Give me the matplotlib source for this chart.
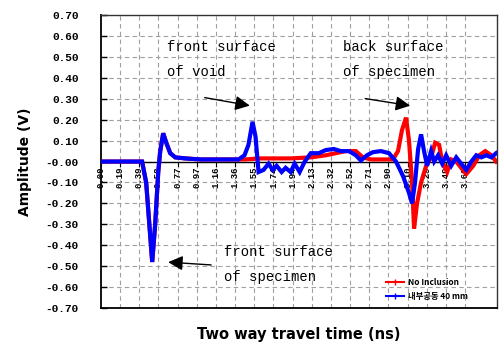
import numpy as np
import matplotlib.pyplot as plt
from matplotlib.lines import Line2D

# time axis (ns) and amplitudes (V)
t_void = [0.00, 0.40, 0.415, 0.456, 0.517, 0.547, 0.578, 0.598, 0.628, 0.659,
          0.699, 0.750, 0.851, 1.003, 1.206, 1.388, 1.449, 1.489, 1.530, 1.560,
          1.591, 1.641, 1.692, 1.733, 1.773, 1.824, 1.864, 1.915, 1.955, 2.006,
          2.057, 2.118, 2.199, 2.270, 2.351, 2.421, 2.503, 2.573, 2.624, 2.685,
          2.746, 2.827, 2.908, 2.979, 3.050, 3.110, 3.141, 3.171, 3.202, 3.232,
          3.262, 3.293, 3.333, 3.364, 3.404, 3.445, 3.485, 3.536, 3.587, 3.637,
          3.688, 3.739, 3.789, 3.840, 3.891, 3.941, 3.99]
amp_void = [0.00, 0.00, 0.00, -0.10, -0.48, -0.30, -0.05, 0.05, 0.135, 0.09,
            0.04, 0.02, 0.015, 0.01, 0.01, 0.01, 0.03, 0.08, 0.19, 0.12,
            -0.05, -0.04, -0.01, -0.04, -0.02, -0.05, -0.03, -0.05, -0.01, -0.05,
            0.00, 0.04, 0.04, 0.055, 0.06, 0.05, 0.05, 0.03, 0.005, 0.03,
            0.045, 0.05, 0.04, 0.00, -0.07, -0.15, -0.20, -0.10, 0.06, 0.13,
            0.05, -0.02, 0.05, 0.00, 0.03, -0.01, 0.03, -0.02, 0.02, -0.01,
            -0.04, 0.00, 0.03, 0.02, 0.03, 0.02, 0.04]

t_none = [0.00, 0.40, 0.415, 0.456, 0.517, 0.547, 0.578, 0.598, 0.628, 0.659,
          0.699, 0.750, 0.851, 1.003, 1.206, 1.388, 1.449, 1.611, 1.915, 2.118,
          2.270, 2.371, 2.472, 2.573, 2.644, 2.725, 2.827, 2.948, 2.999, 3.039,
          3.080, 3.110, 3.141, 3.161, 3.191, 3.232, 3.283, 3.333, 3.374, 3.414,
          3.445, 3.495, 3.536, 3.587, 3.637, 3.688, 3.759, 3.820, 3.880, 3.941,
          3.99]
amp_none = [0.00, 0.00, 0.00, -0.10, -0.48, -0.30, -0.05, 0.05, 0.135, 0.09,
            0.04, 0.02, 0.015, 0.01, 0.01, 0.01, 0.01, 0.015, 0.015, 0.02,
            0.03, 0.04, 0.05, 0.05, 0.02, 0.01, 0.01, 0.01, 0.05, 0.15,
            0.21, 0.10, -0.10, -0.32, -0.20, -0.10, -0.02, 0.02, 0.09, 0.08,
            0.00, -0.05, 0.01, 0.00, -0.03, -0.06, -0.02, 0.03, 0.05, 0.03,
            0.00]

x_step = 0.1935
x_labels = ['0.00', '0.19', '0.39', '0.58', '0.77', '0.97', '1.16', '1.36',
            '1.55', '1.74', '1.94', '2.13', '2.32', '2.52', '2.71', '2.90',
            '3.10', '3.29', '3.49', '3.68']
y_ticks = np.round(np.arange(-0.7, 0.71, 0.1), 2)

legend_labels = ['No Inclusion', '내부공동 40 mm']

mono = 'Liberation Mono'

fig = plt.figure(figsize=(5.04, 3.43), dpi=100)
ax = fig.add_axes([0.2004, 0.102, 0.786, 0.854])

x_ticks = np.arange(len(x_labels)) * x_step

# grid
for xv in x_ticks[1:]:
    ax.axvline(xv, color='#a0a0a0', lw=0.8, ls=(0, (4, 3)), zorder=0)
for yv in y_ticks:
    ax.axhline(yv, color='#a0a0a0', lw=0.8, ls=(0, (4, 3)), zorder=0)
ax.axhline(0, color='black', lw=1.0, zorder=1)

ax.plot(t_none, amp_none, color='red', lw=3.0, solid_joinstyle='miter', zorder=2)
ax.plot(t_void, amp_void, color='blue', lw=3.0, solid_joinstyle='miter', zorder=3)

ax.set_xlim(0, 4.0)
ax.set_ylim(-0.7, 0.7)

ax.set_yticks(y_ticks)
ax.set_yticklabels(['%.2f' % v if v >= 0 else '-%.2f' % abs(v) for v in y_ticks],
                   family=mono, fontsize=8, fontweight='bold')
ax.tick_params(axis='y', direction='in', length=4, width=1, pad=16)
ax.set_xticks([])

# category labels along the zero line
for xv, lab in zip(x_ticks, x_labels):
    ax.plot([xv, xv], [0, -0.02], color='black', lw=0.8, zorder=1)
    ax.text(xv, -0.025, lab, rotation=90, ha='center', va='top',
            family=mono, fontsize=6.5, fontweight='bold', zorder=1)

for side in ['left', 'bottom']:
    ax.spines[side].set_linewidth(1.3)
for side in ['top', 'right']:
    ax.spines[side].set_linewidth(1.0)
    ax.spines[side].set_color('#333333')

ax.set_ylabel('Amplitude (V)', fontsize=10, fontweight='bold', labelpad=10)
ax.set_xlabel('Two way travel time (ns)', fontsize=10.5, fontweight='bold',
              labelpad=14)

# annotations
arrow = dict(arrowstyle='-|>', color='black', lw=1, mutation_scale=22)
ax.text(0.67, 0.58, 'front surface\nof void', family=mono, fontsize=10,
        va='top', ha='left', linespacing=2.0)
ax.annotate('', xy=(1.53, 0.265), xytext=(1.02, 0.308), arrowprops=arrow)
ax.text(2.44, 0.58, 'back surface\nof specimen', family=mono, fontsize=10,
        va='top', ha='left', linespacing=2.0)
ax.annotate('', xy=(3.15, 0.265), xytext=(2.64, 0.303), arrowprops=arrow)
ax.text(1.24, -0.40, 'front surface\nof specimen', family=mono, fontsize=10,
        va='top', ha='left', linespacing=2.0)
ax.annotate('', xy=(0.65, -0.48), xytext=(1.14, -0.495), arrowprops=arrow)

handles = [Line2D([], [], color='red', lw=1.5, marker='|', markersize=5),
           Line2D([], [], color='blue', lw=1.5, marker='|', markersize=5)]
ax.legend(handles, legend_labels, loc='lower left', bbox_to_anchor=(0.70, 0.0),
          frameon=False, handlelength=2.2, handletextpad=0.5, labelspacing=0.6,
          prop={'family': ['Noto Sans CJK KR', 'DejaVu Sans'], 'size': 6,
                'weight': 'bold'})

fig.savefig('out.png', dpi=100)
